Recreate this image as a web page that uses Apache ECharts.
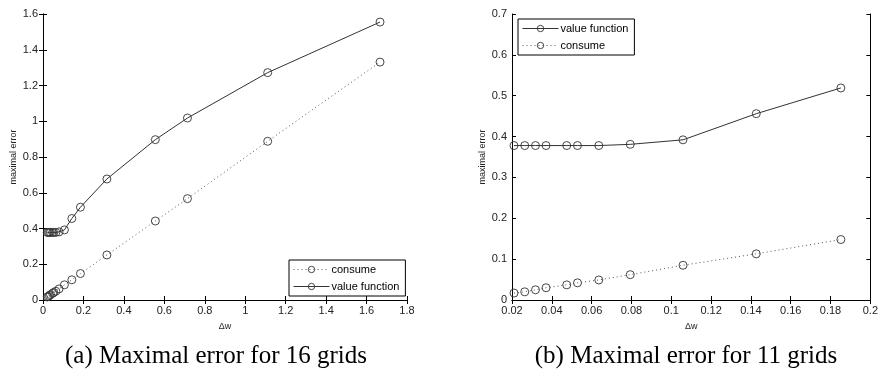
<!DOCTYPE html>
<html>
<head>
<meta charset="utf-8">
<script src="https://cdn.jsdelivr.net/npm/echarts@6/dist/echarts.min.js"></script>
<style>
  html, body { margin: 0; padding: 0; background: #fff; }
  #chart { width: 881px; height: 374px; }
</style>
</head>
<body>
<div id="chart"></div>
<script>
// (a) 16 grids: step size vs. maximal error
const dwA = [0.021, 0.0264, 0.0318, 0.0371, 0.0475, 0.0529, 0.0636, 0.0794, 0.1059, 0.1427, 0.1852, 0.316, 0.5556, 0.7143, 1.1111, 1.6667];
const consumeA = [0.017, 0.020, 0.025, 0.030, 0.037, 0.042, 0.049, 0.062, 0.085, 0.113, 0.148, 0.252, 0.442, 0.567, 0.888, 1.331];
const valueA = [0.378, 0.378, 0.378, 0.378, 0.378, 0.378, 0.378, 0.381, 0.392, 0.456, 0.519, 0.677, 0.897, 1.018, 1.272, 1.555];

// (b) 11 grids
const dwB = [0.021, 0.0264, 0.0318, 0.0371, 0.0475, 0.0529, 0.0636, 0.0794, 0.1059, 0.1427, 0.1852];
const consumeB = [0.017, 0.020, 0.025, 0.030, 0.037, 0.042, 0.049, 0.062, 0.085, 0.113, 0.148];
const valueB = [0.378, 0.378, 0.378, 0.378, 0.378, 0.378, 0.378, 0.381, 0.392, 0.456, 0.519];

// axis ranges
const xRangeA = { min: 0, max: 1.8, interval: 0.2 };
const yRangeA = { min: 0, max: 1.6, interval: 0.2 };
const xRangeB = { min: 0.02, max: 0.2, interval: 0.02 };
const yRangeB = { min: 0, max: 0.7, interval: 0.1 };

const captions = ['(a) Maximal error for 16 grids', '(b) Maximal error for 11 grids'];
const seriesNames = { consume: 'consume', value: 'value function' };

const zip = (xs, ys) => xs.map((x, i) => [x, ys[i]]);

const SANS = 'Liberation Sans, Arial, sans-serif';
const axisLineStyle = { show: true, lineStyle: { color: '#000', width: 1 } };
const tickStyle = { show: true, inside: true, length: 4, lineStyle: { color: '#000' } };

function xAxes(gridIndex, r) {
  return [
    {
      type: 'value', gridIndex, position: 'bottom', min: r.min, max: r.max, interval: r.interval,
      name: 'Δw', nameLocation: 'middle', nameGap: 22,
      nameTextStyle: { fontFamily: SANS, fontSize: 9, color: '#222' },
      axisLine: axisLineStyle, axisTick: tickStyle, splitLine: { show: false },
      axisLabel: { fontFamily: SANS, fontSize: 11, color: '#222', margin: 5, showMaxLabel: true }
    },
    {
      type: 'value', gridIndex, position: 'top', min: r.min, max: r.max, interval: r.interval,
      axisLine: axisLineStyle, axisTick: tickStyle, splitLine: { show: false },
      axisLabel: { show: false }
    }
  ];
}

function yAxes(gridIndex, r) {
  return [
    {
      type: 'value', gridIndex, position: 'left', min: r.min, max: r.max, interval: r.interval,
      name: 'maximal error', nameLocation: 'middle', nameGap: 25, nameRotate: 90,
      nameTextStyle: { fontFamily: SANS, fontSize: 9, color: '#222' },
      axisLine: axisLineStyle, axisTick: tickStyle, splitLine: { show: false },
      axisLabel: { fontFamily: SANS, fontSize: 11, color: '#222', margin: 5 }
    },
    {
      type: 'value', gridIndex, position: 'right', min: r.min, max: r.max, interval: r.interval,
      axisLine: axisLineStyle, axisTick: tickStyle, splitLine: { show: false },
      axisLabel: { show: false }
    }
  ];
}

function lineSeries(name, data, xi, yi, dotted) {
  return {
    type: 'line', name, data, xAxisIndex: xi, yAxisIndex: yi,
    symbol: 'circle', symbolSize: 8, showSymbol: true, animation: false,
    lineStyle: { color: dotted ? '#555' : '#333', width: 1, type: dotted ? [1, 3] : 'solid' },
    itemStyle: { color: 'rgba(0,0,0,0)', borderColor: '#333', borderWidth: 0.9 },
    emphasis: { disabled: true }
  };
}

const legendCommon = {
  orient: 'vertical', itemWidth: 36, itemHeight: 8, itemGap: 6,
  backgroundColor: '#fff', borderColor: '#000', borderWidth: 1,
  padding: [4, 6, 4, 4],
  textStyle: { fontFamily: SANS, fontSize: 11, color: '#000', padding: [0, 0, 0, -3] },
  itemStyle: { color: 'rgba(0,0,0,0)', borderColor: '#333', borderWidth: 0.9 },
  lineStyle: { width: 1 },
  selectedMode: false
};

const chart = echarts.init(document.getElementById('chart'), null, { renderer: 'canvas' });
chart.setOption({
  backgroundColor: '#fff',
  animation: false,
  grid: [
    { left: 43, top: 14, width: 364, height: 286 },
    { left: 512, top: 14, width: 365, height: 286 }
  ],
  xAxis: [...xAxes(0, xRangeA), ...xAxes(1, xRangeB)],
  yAxis: [...yAxes(0, yRangeA), ...yAxes(1, yRangeB)],
  legend: [
    Object.assign({}, legendCommon, { left: 289, top: 260, data: [seriesNames.consume, seriesNames.value] }),
    Object.assign({}, legendCommon, { left: 518, top: 19, data: [seriesNames.value, seriesNames.consume] })
  ],
  series: [
    lineSeries(seriesNames.consume, zip(dwA, consumeA), 0, 0, true),
    lineSeries(seriesNames.value, zip(dwA, valueA), 0, 0, false),
    lineSeries(seriesNames.value, zip(dwB, valueB), 2, 2, false),
    lineSeries(seriesNames.consume, zip(dwB, consumeB), 2, 2, true)
  ],
  graphic: [
    { type: 'text', x: 216, y: 356, style: { text: captions[0], font: '25px "Liberation Serif", serif', fill: '#000', align: 'center', verticalAlign: 'middle' } },
    { type: 'text', x: 686, y: 356, style: { text: captions[1], font: '25px "Liberation Serif", serif', fill: '#000', align: 'center', verticalAlign: 'middle' } }
  ]
});
</script>
</body>
</html>
